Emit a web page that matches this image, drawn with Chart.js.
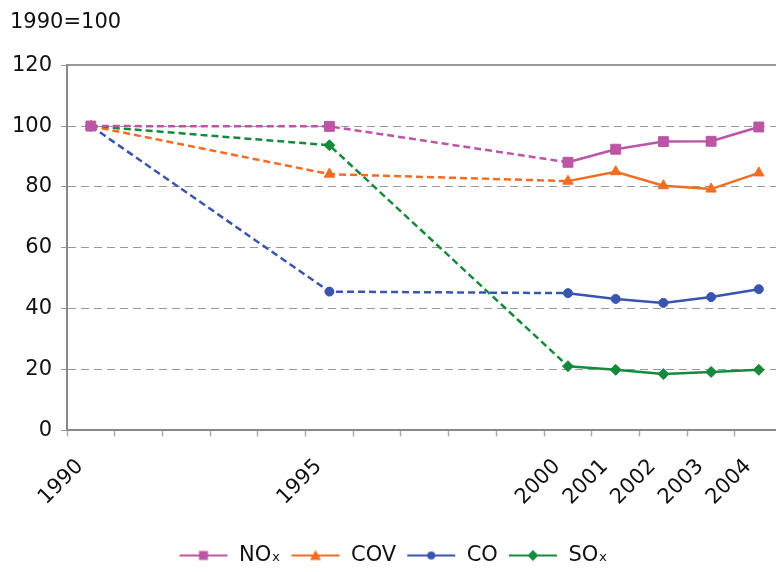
<!DOCTYPE html>
<html>
<head>
<meta charset="utf-8">
<script src="https://cdn.jsdelivr.net/npm/chart.js@4"></script>
<style>
  body { margin: 0; background: #fff; }
  #wrap { width: 776px; height: 572px; }
</style>
</head>
<body>
<div id="wrap"><canvas id="chart" width="776" height="572"></canvas></div>
<script>
// years on a linear axis (spacing follows time)
const years = [1990, 1995, 2000, 2001, 2002, 2003, 2004];
const noxValues = [100, 99.9, 88.1, 92.4, 94.9, 95.0, 99.7];
const covValues = [100, 84.2, 81.9, 85.0, 80.4, 79.3, 84.6];
const coValues  = [100, 45.6, 45.1, 43.2, 41.9, 43.8, 46.4];
const soxValues = [100, 93.7, 21.1, 19.9, 18.5, 19.2, 19.9];
const yTicks = [0, 20, 40, 60, 80, 100, 120];

const FONT = "'DejaVu Sans', Verdana, sans-serif";

// line + marker sample for the legend
function legendSample(color, style) {
    const c = document.createElement('canvas');
    c.width = 50; c.height = 14;
    const g = c.getContext('2d');
    g.strokeStyle = color;
    g.lineWidth = 2;
    g.beginPath();
    g.moveTo(1, 7); g.lineTo(49, 7);
    g.stroke();
    g.fillStyle = color;
    g.beginPath();
    if (style === 'rect') {
        g.rect(20.5, 2.5, 9, 9);
    } else if (style === 'triangle') {
        g.moveTo(25, 1.5); g.lineTo(30.5, 11.5); g.lineTo(19.5, 11.5); g.closePath();
    } else if (style === 'circle') {
        g.arc(25, 7, 4, 0, Math.PI * 2);
    } else {
        g.moveTo(25, 1.5); g.lineTo(30.5, 7); g.lineTo(25, 12.5); g.lineTo(19.5, 7); g.closePath();
    }
    g.fill();
    return c;
}

function makeSeries(label, values, color, style, radius) {
    return {
        label: label,
        data: years.map((y, i) => ({ x: y, y: values[i] })),
        borderColor: color,
        backgroundColor: color,
        borderWidth: 2.5,
        pointStyle: style,
        pointRadius: radius,
        pointBorderWidth: 1,
        pointHoverRadius: radius,
        legendSample: legendSample(color, style),
        segment: {
            borderDash: ctx => ctx.p1.parsed.x <= 2000 ? [7, 4] : undefined
        }
    };
}

const datasets = [
    makeSeries('NOₓ', noxValues, '#BD55A6', 'rect', 7),
    makeSeries('COV', covValues, '#F26C22', 'triangle', 6),
    makeSeries('CO', coValues, '#3A55AE', 'circle', 4.5),
    makeSeries('SOₓ', soxValues, '#168A3C', 'rectRot', 5.5)
];

const labelYears = new Set(years);

new Chart(document.getElementById('chart').getContext('2d'), {
    type: 'line',
    data: { datasets: datasets },
    options: {
        responsive: false,
        animation: false,
        layout: { autoPadding: false, padding: { left: 10, right: 0, top: 6, bottom: -4 } },
        plugins: {
            tooltip: { enabled: false },
            title: {
                display: true,
                text: '1990=100',
                align: 'start',
                color: '#111',
                font: { family: FONT, size: 21, weight: 'normal' },
                padding: { top: 4, bottom: 30 }
            },
            legend: {
                position: 'bottom',
                labels: {
                    usePointStyle: true,
                    pointStyleWidth: 50,
                    padding: 10,
                    color: '#111',
                    font: { family: FONT, size: 21 },
                    generateLabels: chart => chart.data.datasets.map((ds, i) => ({
                        text: ds.label,
                        pointStyle: ds.legendSample,
                        fillStyle: ds.borderColor,
                        strokeStyle: ds.borderColor,
                        lineWidth: 0,
                        fontColor: '#111',
                        datasetIndex: i
                    }))
                }
            }
        },
        scales: {
            x: {
                type: 'linear',
                min: 1989.5,
                max: 2004.36,
                afterBuildTicks: axis => {
                    const t = [];
                    for (let v = 1989.5; v < 2004; v += 1) t.push({ value: v });
                    axis.ticks = t;
                },
                afterFit: axis => {
                    axis.height += 7;
                },
                ticks: {
                    autoSkip: false,
                    minRotation: 45,
                    maxRotation: 45,
                    labelOffset: 13,
                    padding: 18,
                    color: '#111',
                    font: { family: FONT, size: 21 },
                    callback: v => labelYears.has(v + 0.5) ? String(v + 0.5) : ''
                },
                grid: {
                    drawOnChartArea: false,
                    drawTicks: true,
                    tickLength: 6,
                    tickColor: '#aaa',
                    tickWidth: 1.5
                },
                border: { color: '#888', width: 2 }
            },
            xTop: {
                type: 'linear',
                position: 'top',
                display: true,
                ticks: { display: false },
                grid: { display: false, drawTicks: false },
                border: { color: '#999', width: 2 }
            },
            y: {
                min: 0,
                max: 120,
                afterBuildTicks: axis => { axis.ticks = yTicks.map(v => ({ value: v })); },
                afterFit: axis => { axis.width = 57; },
                ticks: {
                    padding: 9,
                    color: '#111',
                    font: { family: FONT, size: 21 }
                },
                grid: {
                    color: ctx => (ctx.tick && (ctx.tick.value === 0 || ctx.tick.value === 120)) ? 'rgba(0,0,0,0)' : '#999',
                    lineWidth: 1,
                    drawTicks: true,
                    tickLength: 6,
                    tickColor: '#999',
                    tickBorderDash: []
                },
                border: { color: '#888', width: 2, dash: [8, 5] }
            }
        }
    }
});
</script>
</body>
</html>
